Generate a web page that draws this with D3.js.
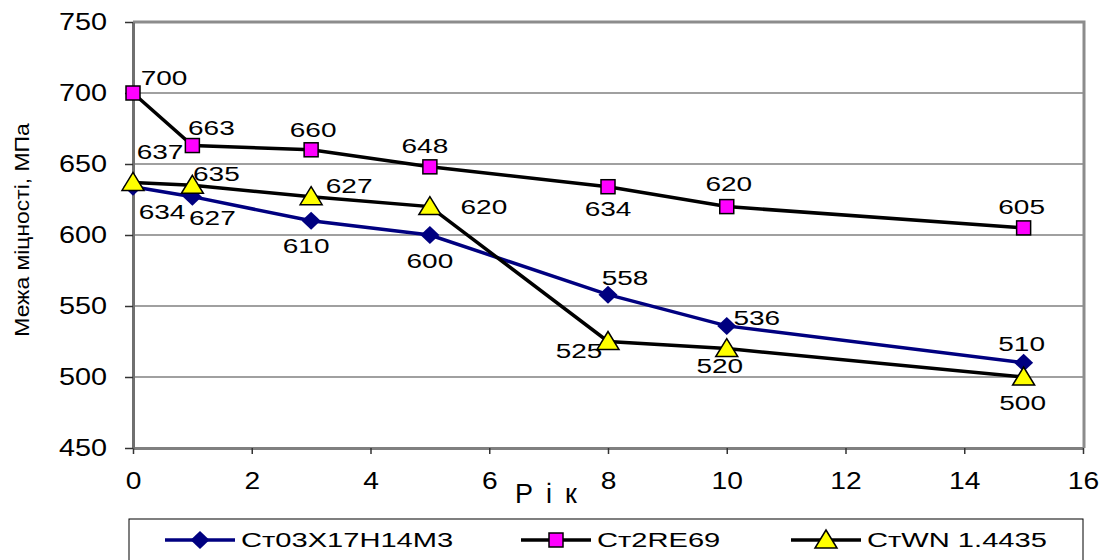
<!DOCTYPE html>
<html>
<head>
<meta charset="utf-8">
<script src="https://cdn.jsdelivr.net/npm/d3@7"></script>
<style>
  body { margin: 0; background: #fff; }
  svg { display: block; font-family: "Liberation Sans", Arial, sans-serif; }
</style>
</head>
<body>
<div id="chart"></div>
<script>
// data
const years = [0, 1, 3, 5, 8, 10, 15]
const seriesNames = ["Ст03Х17Н14М3", "Ст2RE69", "СтWN 1.4435"]
const st03 = [634, 627, 610, 600, 558, 536, 510]
const st2re = [700, 663, 660, 648, 634, 620, 605]
const stwn = [637, 635, 627, 620, 525, 520, 500]
const yTicks = [450, 500, 550, 600, 650, 700, 750]
const xTicks = [0, 2, 4, 6, 8, 10, 12, 14, 16]

// label placement (dx, dy from the point to text centre)
const labelOffsets = [
    [[29, 25], [20, 21], [-5, 25], [0, 26], [17, -17], [30, -8], [-2, -19]],
    [[31, -15], [19, -18], [2, -20], [-5, -21], [0, 22], [2, -23], [-2, -21]],
    [[27, -30], [24, -11], [38, -11], [54, 0], [-29, 10], [-7, 17], [-1, 26]]
]

const width = 1104, height = 560
const plotLeft = 133, plotRight = 1083, plotTop = 22, plotBottom = 448

const svg = d3.select("#chart").append("svg")
    .attr("width", width)
    .attr("height", height)

const x = d3.scaleLinear().domain([0, 16]).range([plotLeft, plotRight])
const y = d3.scaleLinear().domain([450, 750]).range([plotBottom, plotTop])

// grid
svg.append("g")
    .selectAll("line")
    .data(yTicks.slice(1))
    .join("line")
        .attr("x1", plotLeft).attr("x2", plotRight)
        .attr("y1", d => y(d)).attr("y2", d => y(d))
        .attr("stroke", "#808080")
        .attr("stroke-width", 1.5)

// plot border top/right
svg.append("path")
    .attr("d", `M${plotLeft},${plotTop}H${plotRight + 1}V${plotBottom}`)
    .attr("fill", "none")
    .attr("stroke", "#8c8c8c")
    .attr("stroke-width", 3)

// axes
const tickSx = 1.2
const xAxis = svg.append("g")
    .attr("transform", "translate(0," + plotBottom + ")")
    .call(d3.axisBottom(x).tickValues(xTicks).tickSize(6).tickSizeOuter(0))
xAxis.select(".domain").attr("stroke", "#808080").attr("stroke-width", 3)
xAxis.selectAll(".tick line").attr("stroke", "#333").attr("stroke-width", 1.5)
xAxis.selectAll(".tick text")
    .attr("y", 41).attr("dy", null)
    .attr("transform", `scale(${tickSx},1)`)
    .style("font-size", "23.5px")
    .style("fill", "#000")
    .style("font-family", "Liberation Sans, Arial, sans-serif")

const yAxis = svg.append("g")
    .attr("transform", "translate(" + plotLeft + ",0)")
    .call(d3.axisLeft(y).tickValues(yTicks).tickSize(8).tickSizeOuter(0))
yAxis.select(".domain").attr("stroke", "#707070").attr("stroke-width", 3)
yAxis.selectAll(".tick line").attr("stroke", "#333").attr("stroke-width", 1.5)
yAxis.selectAll(".tick text")
    .attr("x", -26 / tickSx)
    .attr("transform", `scale(${tickSx},1)`)
    .style("font-size", "24px")
    .style("fill", "#000")
    .style("font-family", "Liberation Sans, Arial, sans-serif")

// axis titles
svg.append("text")
    .attr("x", 515).attr("y", 503)
    .style("font-size", "27px")
    .style("letter-spacing", "13px")
    .text("Рік")

svg.append("text")
    .attr("transform", "translate(29,230) rotate(-90) scale(1.09,1)")
    .attr("text-anchor", "middle")
    .style("font-size", "21px")
    .text("Межа міцності, МПа")

const series = [
    { name: seriesNames[0], values: st03, line: "#000080", fill: "#000080", shape: "diamond" },
    { name: seriesNames[1], values: st2re, line: "#000000", fill: "#ff00ff", shape: "square" },
    { name: seriesNames[2], values: stwn, line: "#000000", fill: "#ffff00", shape: "triangle" }
]

function marker(g, s, cx, cy) {
    if (s.shape === "diamond") {
        g.append("path")
            .attr("d", `M${cx},${cy - 9}L${cx + 9.5},${cy}L${cx},${cy + 9}L${cx - 9.5},${cy}Z`)
            .attr("fill", s.fill)
    } else if (s.shape === "square") {
        g.append("rect")
            .attr("x", cx - 7).attr("y", cy - 7)
            .attr("width", 14).attr("height", 14)
            .attr("fill", s.fill).attr("stroke", "#000").attr("stroke-width", 1.5)
    } else {
        g.append("path")
            .attr("d", `M${cx},${cy - 10}L${cx + 11},${cy + 8}L${cx - 11},${cy + 8}Z`)
            .attr("fill", s.fill).attr("stroke", "#000").attr("stroke-width", 1.5)
    }
}

const line = d3.line().x((d, i) => x(years[i])).y(d => y(d))

// draw order: blue, then triangles, then squares on top
const order = [0, 2, 1]
order.forEach(k => {
    const s = series[k]
    svg.append("path")
        .datum(s.values)
        .attr("d", line)
        .attr("fill", "none")
        .attr("stroke", s.line)
        .attr("stroke-width", 3.5)
})
order.forEach(k => {
    const s = series[k]
    const g = svg.append("g")
    s.values.forEach((v, i) => marker(g, s, x(years[i]), y(v)))
})

// labels
const labelSx = 1.4
series.forEach((s, k) => {
    svg.append("g")
        .selectAll("text")
        .data(s.values)
        .join("text")
            .attr("transform", (d, i) =>
                `translate(${x(years[i]) + labelOffsets[k][i][0]},${y(d) + labelOffsets[k][i][1]}) scale(${labelSx},1)`)
            .attr("text-anchor", "middle")
            .attr("dominant-baseline", "central")
            .style("font-size", "20px")
            .text(d => d)
})

// legend
const legend = svg.append("g")
legend.append("rect")
    .attr("x", 129).attr("y", 519)
    .attr("width", 954).attr("height", 60)
    .attr("fill", "#fff")
    .attr("stroke", "#000").attr("stroke-width", 1)

const legendX = [165, 521, 791]
series.forEach((s, k) => {
    const lx = legendX[k], ly = 540
    legend.append("line")
        .attr("x1", lx).attr("x2", lx + 70)
        .attr("y1", ly).attr("y2", ly)
        .attr("stroke", s.line).attr("stroke-width", 3.5)
    marker(legend, s, lx + 35, ly)
    legend.append("text")
        .attr("transform", `translate(${lx + 76},${ly}) scale(1.42,1)`)
        .attr("dominant-baseline", "central")
        .style("font-size", "20.5px")
        .text(s.name)
})
</script>
</body>
</html>
